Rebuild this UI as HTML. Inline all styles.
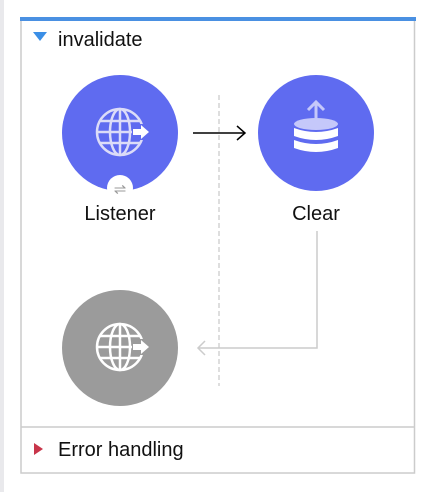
<!DOCTYPE html>
<html><head><style>
body{margin:0;width:446px;height:492px;background:#fff;position:relative;overflow:hidden;font-family:"Liberation Sans",sans-serif;}
.t{position:absolute;font-size:19px;color:#111;}
</style></head><body>
<div style="position:absolute;left:0;top:0;width:4px;height:492px;background:#e9e9ec"></div>
<svg width="446" height="492" style="position:absolute;left:0;top:0">
<rect x="21" y="19" width="393.5" height="454" fill="none" stroke="#ccc" stroke-width="1.5"/>
<rect x="20" y="17" width="396" height="4" fill="#4a90e2"/>
<line x1="21" y1="427" x2="415" y2="427" stroke="#ccc" stroke-width="1.5"/>
<polygon points="33,32 47,32 40,41" fill="#3b8fe6"/>
<polygon points="34,443 34,455 43,449" fill="#c8354a"/>
<line x1="219" y1="95" x2="219" y2="386" stroke="#ccc" stroke-width="1.3" stroke-dasharray="5,3"/>
<line x1="193" y1="133" x2="244" y2="133" stroke="#000" stroke-width="1.5"/>
<polyline points="237,126 245,133 237,140" fill="none" stroke="#000" stroke-width="1.5"/>
<polyline points="317,231 317,348 198,348" fill="none" stroke="#ccc" stroke-width="1.5"/>
<polyline points="205,341 198,348 205,355" fill="none" stroke="#ccc" stroke-width="1.5"/>
<circle cx="120" cy="133" r="58" fill="#5f6bf0"/>
<circle cx="316" cy="133" r="58" fill="#5f6bf0"/>
<circle cx="120" cy="348" r="58" fill="#9b9b9b"/>
<circle cx="120" cy="188" r="13" fill="#fff"/>
<text x="120" y="194" font-size="15" fill="#999" text-anchor="middle">⇌</text>
<g fill="none" stroke="#dcdcf8" stroke-width="2.5">
<circle cx="120" cy="132" r="23"/>
<ellipse cx="120" cy="132" rx="10" ry="23"/>
<line x1="97" y1="132" x2="143" y2="132"/>
<line x1="100" y1="121" x2="140" y2="121"/>
<line x1="100" y1="143" x2="140" y2="143"/>
<line x1="120" y1="109" x2="120" y2="155"/>
</g>
<rect x="132" y="124" width="16" height="16" fill="#5f6bf0"/>
<polygon points="133,129 141,129 141,125 149,132 141,139 141,135 133,135" fill="#fff"/>
<g fill="none" stroke="#fff" stroke-width="2.5">
<circle cx="120" cy="347" r="23"/>
<ellipse cx="120" cy="347" rx="10" ry="23"/>
<line x1="97" y1="347" x2="143" y2="347"/>
<line x1="100" y1="336" x2="140" y2="336"/>
<line x1="100" y1="358" x2="140" y2="358"/>
<line x1="120" y1="324" x2="120" y2="370"/>
</g>
<rect x="132" y="339" width="16" height="16" fill="#9b9b9b"/>
<polygon points="133,344 141,344 141,340 149,347 141,354 141,350 133,350" fill="#fff"/>
<line x1="316" y1="104" x2="316" y2="120" stroke="#c5c8fa" stroke-width="3"/>
<polyline points="308,110 316,102 324,110" fill="none" stroke="#c5c8fa" stroke-width="3"/>
<ellipse cx="316" cy="124" rx="22" ry="6" fill="#c5c8fa"/>
<path d="M294,128 q22,8 44,0 v8 q-22,8 -44,0z" fill="#fff"/>
<path d="M294,140 q22,8 44,0 v8 q-22,8 -44,0z" fill="#fff"/>
</svg>
<div class="t" style="left:58px;top:29px;font-size:20px">invalidate</div>
<div class="t" style="left:70px;top:203px;width:100px;text-align:center;font-size:20px">Listener</div>
<div class="t" style="left:266px;top:203px;width:100px;text-align:center;font-size:20px">Clear</div>
<div class="t" style="left:58px;top:439px;font-size:20px">Error handling</div>
</body></html>
